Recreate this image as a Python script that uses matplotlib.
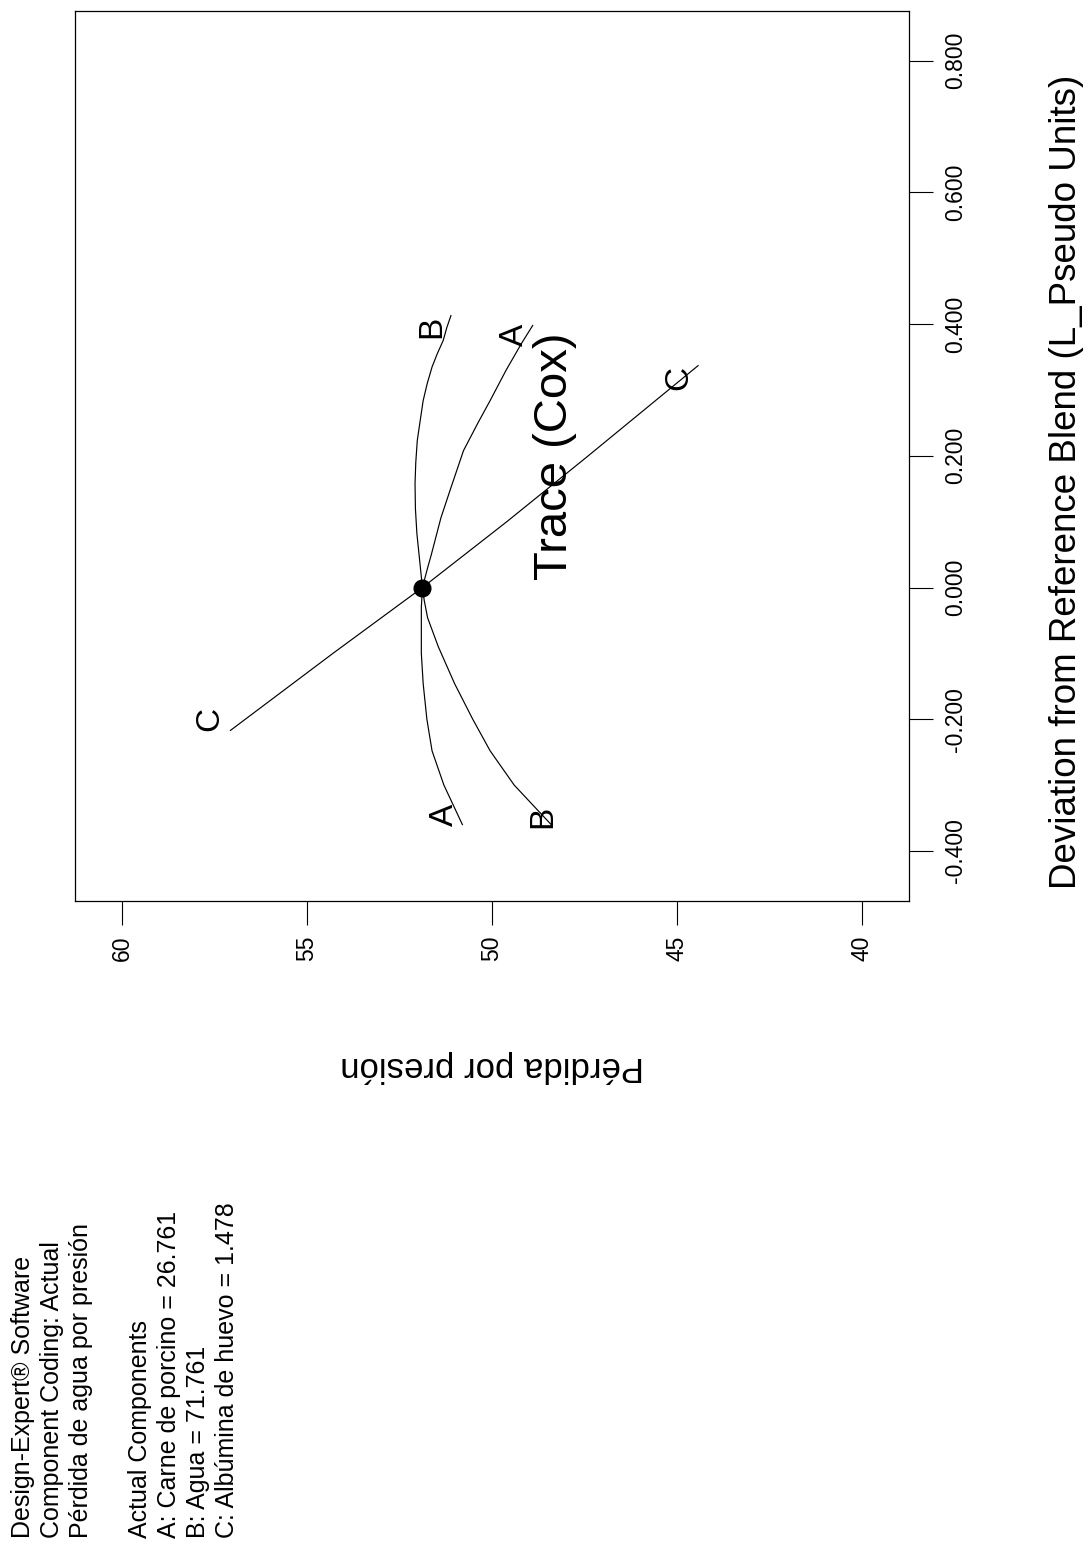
import matplotlib
matplotlib.use("Agg")
import matplotlib.pyplot as plt

plt.rcParams['font.family'] = ['Liberation Sans', 'DejaVu Sans']

# Trace (Cox) data: deviation from reference blend vs predicted response
dev_a = [-0.36, -0.30, -0.248, -0.20, -0.146, -0.10, -0.070, -0.03, 0.0,
         0.030, 0.05, 0.106, 0.15, 0.208, 0.25, 0.284, 0.33, 0.371, 0.398]
resp_a = [50.8, 51.3, 51.62, 51.76, 51.86, 51.91, 51.91, 51.91, 51.88,
          51.74, 51.64, 51.38, 51.12, 50.77, 50.38, 50.05, 49.62, 49.20, 48.90]

dev_b = [-0.36, -0.30, -0.248, -0.20, -0.146, -0.09, -0.046, -0.02, 0.0,
         0.082, 0.12, 0.158, 0.19, 0.223, 0.25, 0.284, 0.31, 0.335, 0.355,
         0.375, 0.395, 0.413]
resp_b = [48.4, 49.4, 50.05, 50.52, 51.01, 51.45, 51.74, 51.83, 51.88,
          52.03, 52.07, 52.08, 52.06, 52.02, 51.95, 51.86, 51.75, 51.62, 51.48,
          51.32, 51.22, 51.11]

dev_c = [-0.217, -0.1, 0.0, 0.1, 0.2, 0.337]
resp_c = [57.07, 54.3, 51.88, 49.6, 47.4, 44.43]

ref_dev = 0.0
ref_resp = 51.88

resp_ticks = [40, 45, 50, 55, 60]
dev_ticks = [-0.4, -0.2, 0.0, 0.2, 0.4, 0.6, 0.8]

info_lines = [
    "Design-Expert® Software",
    "Component Coding: Actual",
    "Pérdida de agua por presión",
    "",
    "Actual Components",
    "A: Carne de porcino = 26.761",
    "B: Agua = 71.761",
    "C: Albúmina de huevo = 1.478",
]

W, H = 1091, 1549
fig = plt.figure(figsize=(W / 100, H / 100), dpi=100)


def fx(px):
    return px / W


def fy(py):
    return 1 - py / H


# plot is laid out sideways: response runs right-to-left, deviation bottom-to-top
left, right, top, bottom = 75, 909, 10.7, 901
ax = fig.add_axes([fx(left), fy(bottom), (right - left) / W, (bottom - top) / H])
ax.set_xlim(61.27, 38.73)
ax.set_ylim(-0.476, 0.876)

lw = 0.85
ax.plot(resp_a, dev_a, color='black', lw=lw)
ax.plot(resp_b, dev_b, color='black', lw=lw)
ax.plot(resp_c, dev_c, color='black', lw=lw)
ax.plot([ref_resp], [ref_dev], 'o', color='black', markersize=12)

lab_fs = 24
ends = [
    ('A', resp_a[-1], dev_a[-1], (-18, -9)),
    ('A', resp_a[0], dev_a[0], (-18, 10)),
    ('B', resp_b[-1], dev_b[-1], (-19, -11)),
    ('B', resp_b[0], dev_b[0], (-8, 8)),
    ('C', resp_c[-1], dev_c[-1], (-19, -12)),
    ('C', resp_c[0], dev_c[0], (-21, 12)),
]
for letter, rx, dy, off in ends:
    ax.annotate(letter, xy=(rx, dy), xytext=off, textcoords='offset pixels',
                rotation=90, ha='center', va='center', fontsize=lab_fs)

ax.set_xticks(resp_ticks)
ax.set_xticklabels([str(t) for t in resp_ticks], rotation=90)
ax.yaxis.tick_right()
ax.set_yticks(dev_ticks)
ax.set_yticklabels([f"{t:.3f}" for t in dev_ticks], rotation=90, va='center')
ax.tick_params(direction='out', length=17, width=0.8, pad=8, labelsize=16.5)
for sp in ax.spines.values():
    sp.set_linewidth(0.9)

ax.text(0.576, 0.5, "Trace (Cox)", transform=ax.transAxes, rotation=90,
        ha='center', va='center', fontsize=34)

fig.text(fx(492), fy(1066), "Pérdida por presión", rotation=180,
         ha='center', va='center', fontsize=25)
fig.text(fx(1067), fy(482), "Deviation from Reference Blend (L_Pseudo Units)",
         rotation=90, ha='center', va='center', fontsize=26.5)

# settings block, one rotated line per entry
x0, step = 23, 29.2
for i, line in enumerate(info_lines):
    if line:
        fig.text(fx(x0 + i * step), fy(1538), line, rotation=90,
                 rotation_mode='anchor', ha='left', va='center', fontsize=18)

fig.savefig("out.png", dpi=100)
